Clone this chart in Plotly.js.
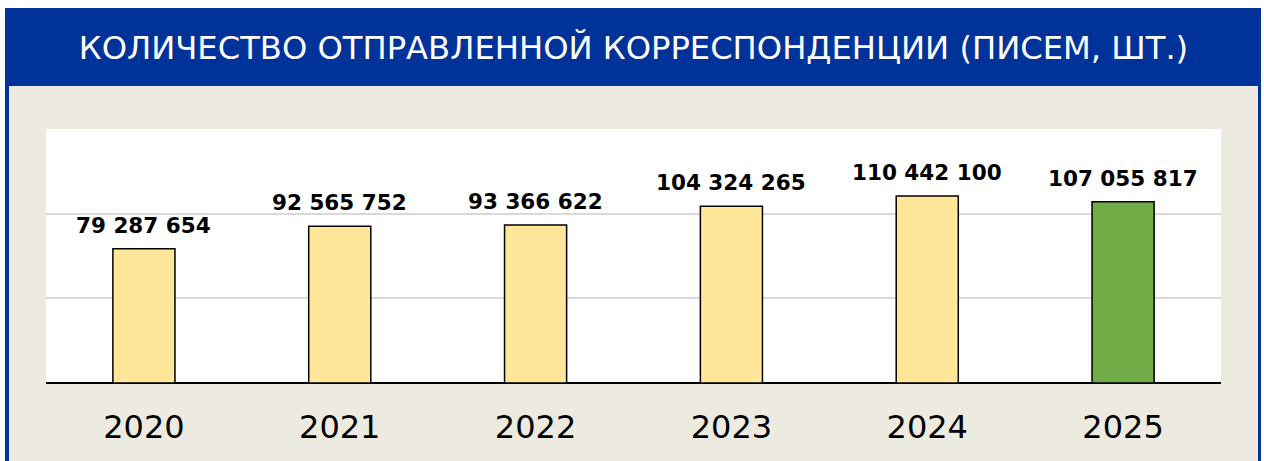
<!DOCTYPE html>
<html>
<head>
<meta charset="utf-8">
<script src="https://cdn.plot.ly/plotly-3.0.1.min.js"></script>
<style>
  html, body { margin: 0; padding: 0; background: #ffffff; width: 1264px; height: 461px; overflow: hidden; }
  #frame { position: absolute; left: 5px; top: 8px; width: 1256px; height: 460px; background: #003399; }
  #inner { position: absolute; left: 9px; top: 86px; width: 1249px; height: 380px; background: #EDEAE0; }
  #chart { position: absolute; left: 0; top: 0; width: 1264px; height: 461px; }
</style>
</head>
<body>
<div id="frame"></div>
<div id="inner"></div>
<div id="chart"></div>
<script>
const titleText = "КОЛИЧЕСТВО ОТПРАВЛЕННОЙ КОРРЕСПОНДЕНЦИИ (ПИСЕМ, ШТ.)";
const years = ["2020", "2021", "2022", "2023", "2024", "2025"];
const letters = [79287654, 92565752, 93366622, 104324265, 110442100, 107055817];
const highlightYear = "2025";

const yellow = "#FFE699";
const green = "#70AD47";

function fmt(v) {
  return String(v).replace(/\B(?=(\d{3})+(?!\d))/g, " ");
}

const trace = {
  type: "bar",
  x: years,
  y: letters,
  marker: {
    color: years.map(y => y === highlightYear ? green : yellow),
    line: { color: "#000000", width: 1.5 }
  },
  hoverinfo: "none"
};

// category index used as annotation x (numeric-looking strings would be read as numbers)
const annotations = years.map((y, i) => ({
  x: i,
  y: letters[i],
  xref: "x",
  yref: "y",
  text: "<b>" + fmt(letters[i]) + "</b>",
  showarrow: false,
  yanchor: "bottom",
  yshift: 9,
  font: { family: "DejaVu Sans", size: 21.5, color: "#000000" }
}));

const layout = {
  width: 1264,
  height: 461,
  margin: { l: 46, r: 43, t: 129, b: 78 },
  paper_bgcolor: "rgba(0,0,0,0)",
  plot_bgcolor: "#FFFFFF",
  showlegend: false,
  bargap: 0.683,
  title: {
    text: titleText,
    font: { family: "DejaVu Sans", size: 32.2, color: "#FFFFFF" },
    x: 0.5,
    xanchor: "center",
    xref: "paper",
    yref: "container",
    y: 1 - 48 / 461,
    yanchor: "middle"
  },
  xaxis: {
    type: "category",
    categoryorder: "array",
    categoryarray: years,
    range: [-0.5, years.length - 0.5],
    showgrid: false,
    zeroline: false,
    showline: false,
    ticks: "outside",
    ticklen: 16,
    tickcolor: "rgba(0,0,0,0)",
    tickfont: { family: "DejaVu Sans", size: 32, color: "#000000" },
    fixedrange: true
  },
  yaxis: {
    range: [0, 150000000],
    tickvals: [0, 50000000, 100000000, 150000000],
    showticklabels: false,
    showgrid: true,
    gridcolor: "#D9D9D9",
    gridwidth: 2,
    zeroline: true,
    zerolinecolor: "#000000",
    zerolinewidth: 2,
    showline: false,
    ticks: "",
    fixedrange: true
  },
  annotations: annotations
};

Plotly.newPlot("chart", [trace], layout, { displayModeBar: false, staticPlot: true });
</script>
</body>
</html>
